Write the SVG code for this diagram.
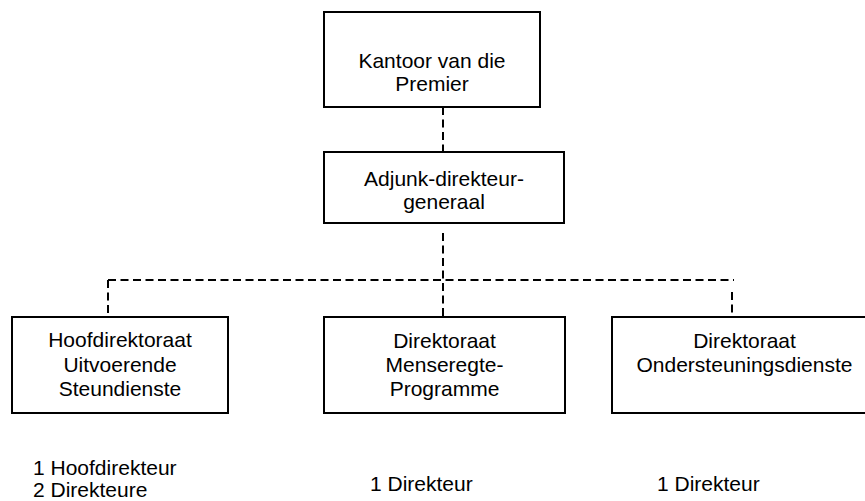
<svg xmlns="http://www.w3.org/2000/svg" width="865" height="501" viewBox="0 0 865 501">
  <style>
    .box { fill: #ffffff; stroke: #000000; stroke-width: 2; }
    .link { fill: none; stroke: #000000; stroke-width: 2; stroke-dasharray: 8 4.5; }
    .label { font-family: "Liberation Sans", Arial, sans-serif; font-size: 21px; fill: #000000; text-anchor: middle; }
    .note { font-family: "Liberation Sans", Arial, sans-serif; font-size: 21px; fill: #000000; }
  </style>
  <rect width="865" height="501" fill="#ffffff"/>

  <!-- dashed reporting lines -->
  <g id="connectors">
    <line class="link" x1="443" y1="107" x2="443" y2="152"/>
    <line class="link" x1="443" y1="233" x2="443" y2="317"/>
    <line class="link" x1="108" y1="280" x2="734" y2="280"/>
    <line class="link" x1="108" y1="280" x2="108" y2="317"/>
    <line class="link" x1="732" y1="292" x2="732" y2="317"/>
  </g>

  <g id="premier">
    <rect class="box" x="324" y="12" width="216" height="95"/>
    <text class="label" x="432" y="68">Kantoor van die</text>
    <text class="label" x="432" y="91">Premier</text>
  </g>

  <g id="adjunk">
    <rect class="box" x="324" y="152" width="240" height="71"/>
    <text class="label" x="444" y="186">Adjunk-direkteur-</text>
    <text class="label" x="444" y="209">generaal</text>
  </g>

  <g id="hoofdirektoraat">
    <rect class="box" x="12" y="317" width="216" height="96"/>
    <text class="label" x="120" y="347">Hoofdirektoraat</text>
    <text class="label" x="120" y="372">Uitvoerende</text>
    <text class="label" x="120" y="396">Steundienste</text>
    <text class="note" x="33" y="475">1 Hoofdirekteur</text>
    <text class="note" x="33" y="497">2 Direkteure</text>
  </g>

  <g id="menseregte">
    <rect class="box" x="324" y="317" width="241" height="96"/>
    <text class="label" x="444.5" y="348">Direktoraat</text>
    <text class="label" x="444.5" y="372">Menseregte-</text>
    <text class="label" x="444.5" y="396">Programme</text>
    <text class="note" x="370" y="491">1 Direkteur</text>
  </g>

  <g id="ondersteuning">
    <rect class="box" x="612" y="317" width="265" height="96"/>
    <text class="label" x="744.5" y="348">Direktoraat</text>
    <text class="label" x="744.5" y="372">Ondersteuningsdienste</text>
    <text class="note" x="657" y="491">1 Direkteur</text>
  </g>
</svg>
